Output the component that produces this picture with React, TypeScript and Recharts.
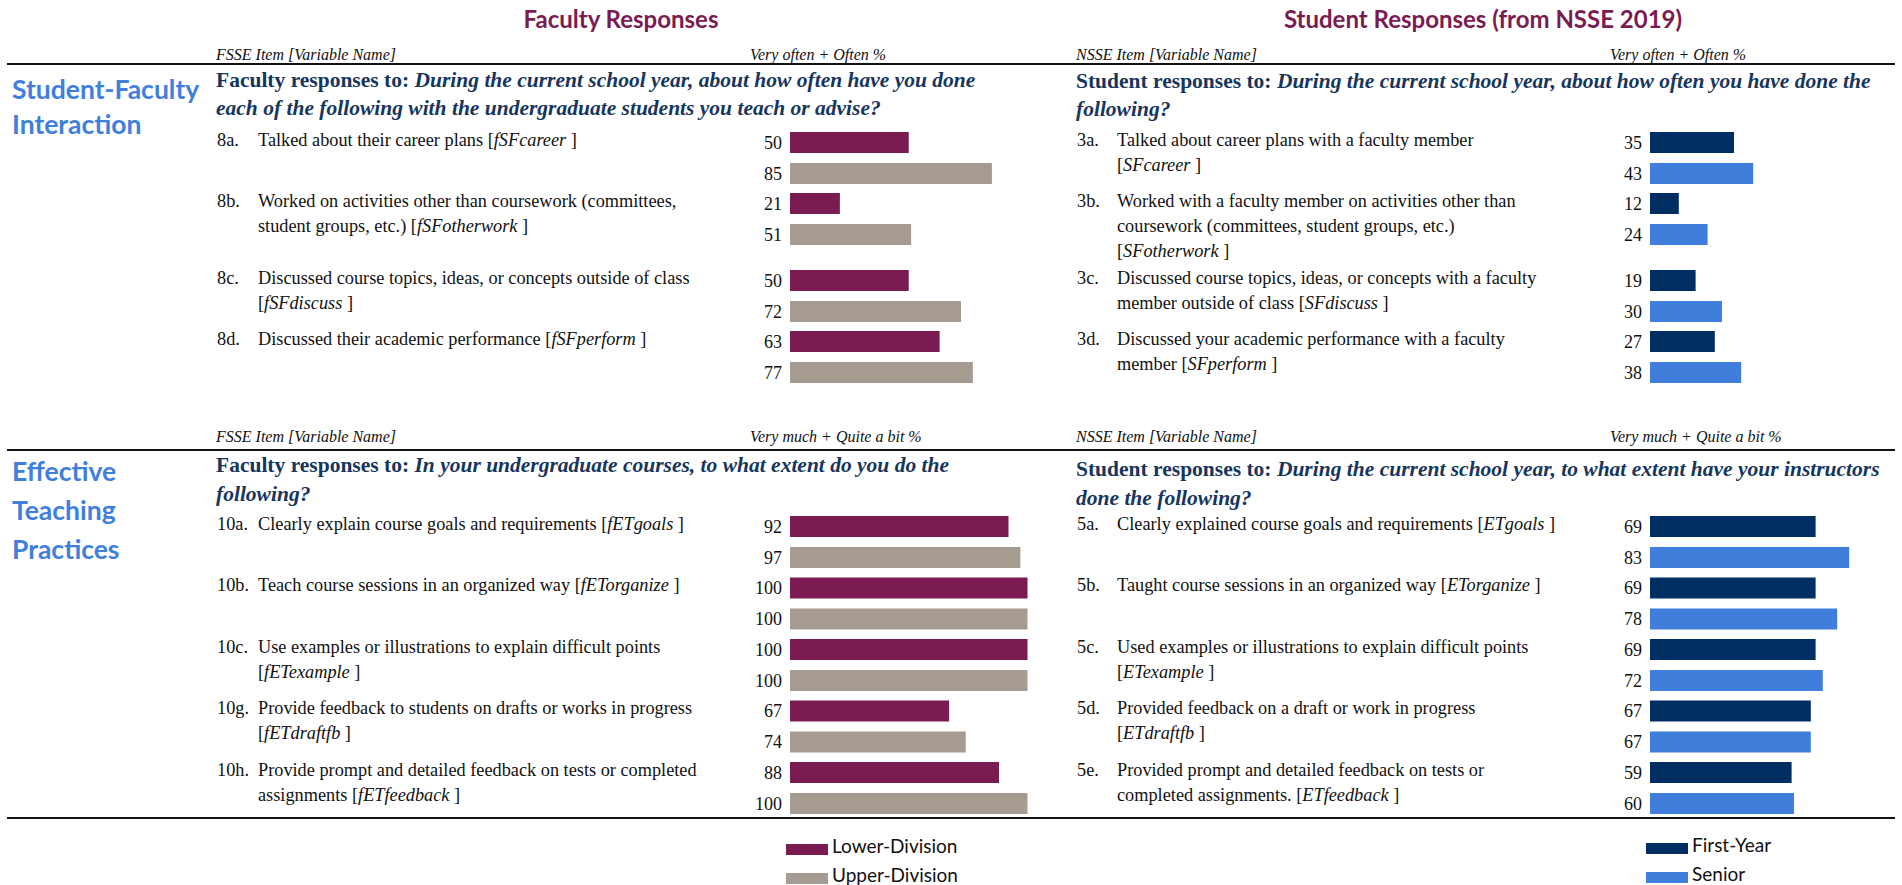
import React from 'react';
import { BarChart, Bar, XAxis, YAxis, LabelList } from 'recharts';

// ---------- data ----------
const sfFacultyCodes = ['8a.', '8b.', '8c.', '8d.'];
const sfFacultyText = [
  'Talked about their career plans',
  'Worked on activities other than coursework (committees,\nstudent groups, etc.)',
  'Discussed course topics, ideas, or concepts outside of class\n',
  'Discussed their academic performance',
];
const sfFacultyVars = ['fSFcareer', 'fSFotherwork', 'fSFdiscuss', 'fSFperform'];
const sfFacultyLower = [50, 21, 50, 63];
const sfFacultyUpper = [85, 51, 72, 77];

const sfStudentCodes = ['3a.', '3b.', '3c.', '3d.'];
const sfStudentText = [
  'Talked about career plans with a faculty member\n',
  'Worked with a faculty member on activities other than\ncoursework (committees, student groups, etc.)\n',
  'Discussed course topics, ideas, or concepts with a faculty\nmember outside of class',
  'Discussed your academic performance with a faculty\nmember',
];
const sfStudentVars = ['SFcareer', 'SFotherwork', 'SFdiscuss', 'SFperform'];
const sfStudentFirst = [35, 12, 19, 27];
const sfStudentSenior = [43, 24, 30, 38];

const etFacultyCodes = ['10a.', '10b.', '10c.', '10g.', '10h.'];
const etFacultyText = [
  'Clearly explain course goals and requirements',
  'Teach course sessions in an organized way',
  'Use examples or illustrations to explain difficult points\n',
  'Provide feedback to students on drafts or works in progress\n',
  'Provide prompt and detailed feedback on tests or completed\nassignments',
];
const etFacultyVars = ['fETgoals', 'fETorganize', 'fETexample', 'fETdraftfb', 'fETfeedback'];
const etFacultyLower = [92, 100, 100, 67, 88];
const etFacultyUpper = [97, 100, 100, 74, 100];

const etStudentCodes = ['5a.', '5b.', '5c.', '5d.', '5e.'];
const etStudentText = [
  'Clearly explained course goals and requirements',
  'Taught course sessions in an organized way',
  'Used examples or illustrations to explain difficult points\n',
  'Provided feedback on a draft or work in progress\n',
  'Provided prompt and detailed feedback on tests or\ncompleted assignments.',
];
const etStudentVars = ['ETgoals', 'ETorganize', 'ETexample', 'ETdraftfb', 'ETfeedback'];
const etStudentFirst = [69, 69, 69, 67, 59];
const etStudentSenior = [83, 78, 72, 67, 60];

const facultySeries = ['Lower-Division', 'Upper-Division'];
const studentSeries = ['First-Year', 'Senior'];

// ---------- styles ----------
const C_LOWER = '#7A1C52';
const C_UPPER = '#A69B91';
const C_FIRST = '#002D62';
const C_SENIOR = '#3F7FDB';
const C_TITLE = '#7A1C52';
const C_HEAD = '#17365D';
const C_SECTION = '#4080DD';
const SERIF = '"Liberation Serif", "Times New Roman", serif';
const SANS = 'Lato, "Open Sans", sans-serif';

const abs = (left: number, top: number, extra: React.CSSProperties = {}): React.CSSProperties => ({
  position: 'absolute',
  left,
  top,
  whiteSpace: 'pre',
  ...extra,
});

function makeRows(codes: string[], a: number[], b: number[]) {
  return codes.map((c, i) => ({ code: c, a: a[i], b: b[i] }));
}

function PairChart(props: {
  codes: string[];
  a: number[];
  b: number[];
  left: number;
  top: number;
  width: number;
  band: number;
  colors: [string, string];
  names: string[];
}) {
  const { codes, a, b, left, top, width, band, colors, names } = props;
  const data = makeRows(codes, a, b);
  const labelStyle = { fontFamily: SERIF, fontSize: 18, fill: '#111' };
  return (
    <div style={{ position: 'absolute', left: left - 60, top }}>
      <BarChart
        width={width + 60}
        height={band * data.length}
        data={data}
        layout="vertical"
        margin={{ top: 0, right: 0, bottom: 0, left: 60 }}
        barSize={21}
        barGap={10}
      >
        <XAxis type="number" domain={[0, 100]} hide />
        <YAxis type="category" dataKey="code" hide />
        <Bar dataKey="a" name={names[0]} fill={colors[0]} isAnimationActive={false}>
          <LabelList dataKey="a" position="left" offset={8} style={labelStyle} />
        </Bar>
        <Bar dataKey="b" name={names[1]} fill={colors[1]} isAnimationActive={false}>
          <LabelList dataKey="b" position="left" offset={8} style={labelStyle} />
        </Bar>
      </BarChart>
    </div>
  );
}

function Item(props: { code: string; text: string; v: string; x: number; tx: number; top: number }) {
  const { code, text, v, x, tx, top } = props;
  const lines = text.split('\n');
  const last = lines.length - 1;
  const style: React.CSSProperties = { fontFamily: SERIF, fontSize: 18.3, lineHeight: '25px', color: '#111' };
  return (
    <>
      <div style={abs(x, top, style)}>{code}</div>
      {lines.map((ln, i) => (
        <div key={i} style={abs(tx, top + i * 25, style)}>
          {i < last ? (
            ln
          ) : (
            <>
              {ln ? ln + ' ' : ''}[<i>{v}</i> ]
            </>
          )}
        </div>
      ))}
    </>
  );
}

function Heading(props: { x: number; top: number; lead: string; q: string; lh: number }) {
  const parts = props.q.split('\n');
  const style: React.CSSProperties = {
    fontFamily: SERIF,
    fontSize: 21.5,
    fontWeight: 700,
    lineHeight: props.lh + 'px',
    color: C_HEAD,
  };
  return (
    <>
      {parts.map((p, i) => (
        <div key={i} style={abs(props.x, props.top + i * props.lh, style)}>
          {i === 0 ? <span>{props.lead}</span> : null}
          <i>{p}</i>
        </div>
      ))}
    </>
  );
}

function ColHeader(props: { x: number; top: number; text: string }) {
  return (
    <div style={abs(props.x, props.top, { fontFamily: SERIF, fontSize: 16, fontStyle: 'italic', lineHeight: '16px', color: '#111' })}>
      {props.text}
    </div>
  );
}

function Rule(props: { top: number }) {
  return <div style={{ position: 'absolute', left: 7, top: props.top, width: 1888, height: 2, background: '#111' }} />;
}

function LegendRow(props: { x: number; top: number; color: string; label: string }) {
  return (
    <>
      <div style={{ position: 'absolute', left: props.x, top: props.top, width: 42, height: 11, background: props.color }} />
      <div style={abs(props.x + 46, props.top - 9, { fontFamily: SANS, fontSize: 19, lineHeight: '22px', color: '#111' })}>
        {props.label}
      </div>
    </>
  );
}

export default function App() {
  const L_CODE = 217;
  const L_TEXT = 258;
  const R_CODE = 1077;
  const R_TEXT = 1117;
  const L_BAR = 790;
  const R_BAR = 1650;

  const sfCentersA = [141.5, 202.5];
  const sfCentersB = [279.5, 340.5];
  const sfCenters = [...sfCentersA, ...sfCentersB];
  const etBand = 61.5;
  const etTop = 511;
  const etCenters = etFacultyCodes.map((_, i) => etTop + 14.5 + i * etBand);

  const titleStyle: React.CSSProperties = {
    transform: 'translateX(-50%)',
    fontFamily: SANS,
    fontWeight: 700,
    fontSize: 24,
    color: C_TITLE,
    lineHeight: '28px',
  };
  const sectionStyle = (lh: number): React.CSSProperties => ({
    fontFamily: SANS,
    fontWeight: 700,
    fontSize: 26.5,
    lineHeight: lh + 'px',
    color: C_SECTION,
  });

  return (
    <div style={{ position: 'absolute', left: 0, top: 0, width: 1902, height: 885, background: '#fff', overflow: 'hidden' }}>
      {/* titles */}
      <div style={abs(621, 5, titleStyle)}>Faculty Responses</div>
      <div style={abs(1483, 5, titleStyle)}>Student Responses (from NSSE 2019)</div>

      {/* section 1 headers */}
      <ColHeader x={216} top={47} text="FSSE Item [Variable Name]" />
      <ColHeader x={750} top={47} text="Very often + Often %" />
      <ColHeader x={1076} top={47} text="NSSE Item [Variable Name]" />
      <ColHeader x={1610} top={47} text="Very often + Often %" />
      <Rule top={63} />

      <div style={abs(12, 72, sectionStyle(35))}>{'Student-Faculty\nInteraction'}</div>

      <Heading
        x={216}
        top={66}
        lh={28}
        lead="Faculty responses to: "
        q={'During the current school year, about how often have you done\neach of the following with the undergraduate students you teach or advise?'}
      />
      <Heading
        x={1076}
        top={67}
        lh={28}
        lead="Student responses to: "
        q={'During the current school year, about how often you have done the\nfollowing?'}
      />

      {sfFacultyCodes.map((c, i) => (
        <Item key={c} code={c} text={sfFacultyText[i]} v={sfFacultyVars[i]} x={L_CODE} tx={L_TEXT} top={sfCenters[i] - 14} />
      ))}
      {sfStudentCodes.map((c, i) => (
        <Item key={c} code={c} text={sfStudentText[i]} v={sfStudentVars[i]} x={R_CODE} tx={R_TEXT} top={sfCenters[i] - 14} />
      ))}

      <PairChart codes={sfFacultyCodes.slice(0, 2)} a={sfFacultyLower.slice(0, 2)} b={sfFacultyUpper.slice(0, 2)} left={L_BAR} top={sfCentersA[0] - 14.5} width={237.5} band={61} colors={[C_LOWER, C_UPPER]} names={facultySeries} />
      <PairChart codes={sfFacultyCodes.slice(2)} a={sfFacultyLower.slice(2)} b={sfFacultyUpper.slice(2)} left={L_BAR} top={sfCentersB[0] - 14.5} width={237.5} band={61} colors={[C_LOWER, C_UPPER]} names={facultySeries} />
      <PairChart codes={sfStudentCodes.slice(0, 2)} a={sfStudentFirst.slice(0, 2)} b={sfStudentSenior.slice(0, 2)} left={R_BAR} top={sfCentersA[0] - 14.5} width={240} band={61} colors={[C_FIRST, C_SENIOR]} names={studentSeries} />
      <PairChart codes={sfStudentCodes.slice(2)} a={sfStudentFirst.slice(2)} b={sfStudentSenior.slice(2)} left={R_BAR} top={sfCentersB[0] - 14.5} width={240} band={61} colors={[C_FIRST, C_SENIOR]} names={studentSeries} />

      {/* section 2 headers */}
      <ColHeader x={216} top={429} text="FSSE Item [Variable Name]" />
      <ColHeader x={750} top={429} text="Very much + Quite a bit %" />
      <ColHeader x={1076} top={429} text="NSSE Item [Variable Name]" />
      <ColHeader x={1610} top={429} text="Very much + Quite a bit %" />
      <Rule top={449} />

      <div style={abs(12, 452, sectionStyle(39))}>{'Effective\nTeaching\nPractices'}</div>

      <Heading
        x={216}
        top={451}
        lh={29}
        lead="Faculty responses to: "
        q={'In your undergraduate courses, to what extent do you do the\nfollowing?'}
      />
      <Heading
        x={1076}
        top={455}
        lh={29}
        lead="Student responses to: "
        q={'During the current school year, to what extent have your instructors\ndone the following?'}
      />

      {etFacultyCodes.map((c, i) => (
        <Item key={c} code={c} text={etFacultyText[i]} v={etFacultyVars[i]} x={L_CODE} tx={L_TEXT} top={etCenters[i] - 14} />
      ))}
      {etStudentCodes.map((c, i) => (
        <Item key={c} code={c} text={etStudentText[i]} v={etStudentVars[i]} x={R_CODE} tx={R_TEXT} top={etCenters[i] - 14} />
      ))}

      <PairChart codes={etFacultyCodes} a={etFacultyLower} b={etFacultyUpper} left={L_BAR} top={etTop} width={237.5} band={etBand} colors={[C_LOWER, C_UPPER]} names={facultySeries} />
      <PairChart codes={etStudentCodes} a={etStudentFirst} b={etStudentSenior} left={R_BAR} top={etTop} width={240} band={etBand} colors={[C_FIRST, C_SENIOR]} names={studentSeries} />

      <Rule top={817} />

      {/* legends */}
      <LegendRow x={786} top={844} color={C_LOWER} label={facultySeries[0]} />
      <LegendRow x={786} top={873} color={C_UPPER} label={facultySeries[1]} />
      <LegendRow x={1646} top={843} color={C_FIRST} label={studentSeries[0]} />
      <LegendRow x={1646} top={872} color={C_SENIOR} label={studentSeries[1]} />
    </div>
  );
}
